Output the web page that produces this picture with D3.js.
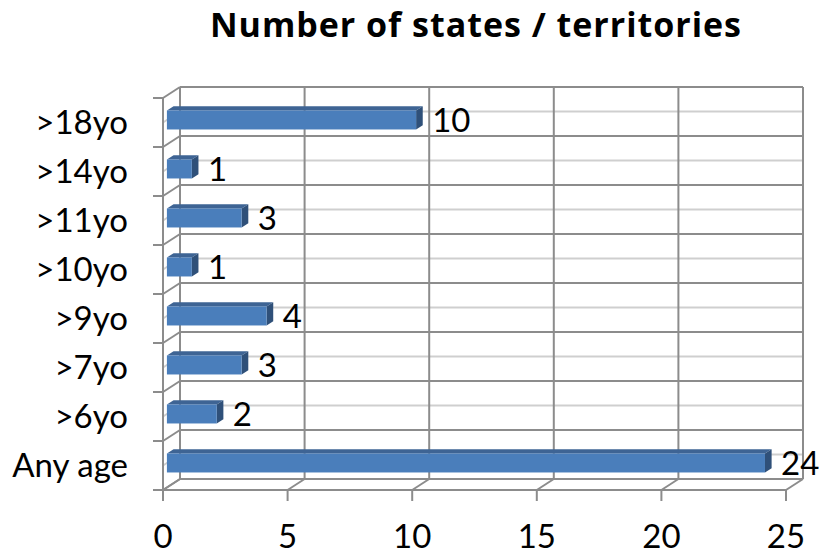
<!DOCTYPE html>
<html><head><meta charset="utf-8">
<script src="https://cdn.jsdelivr.net/npm/d3@7"></script>
<style>body{margin:0;background:#fff}svg{display:block}text{font-family:Lato,"Open Sans",sans-serif;fill:#000}</style>
</head><body>
<script>
const categories = [">18yo", ">14yo", ">11yo", ">10yo", ">9yo", ">7yo", ">6yo", "Any age"];
const values = [10, 1, 3, 1, 4, 3, 2, 24];
const xTicks = [0, 5, 10, 15, 20, 25];
const title = "Number of states / territories";

const W = 819, H = 554;
const svg = d3.select("body").append("svg").attr("width", W).attr("height", H);

const x = d3.scaleLinear().domain([0, 25]).range([163, 786]);
const y = d3.scaleBand().domain(categories).range([98, 490]).padding(0);
const DX = 17, DY = -11;        // depth offset of back wall
const d0 = 0.23, d1 = 0.62;     // bar depth span
const barH = 19;

const dark = "#8c8c8c", light = "#cfcfcf";
const g = svg.append("g");

const bx0 = x(0) + DX, bx1 = x(25) + DX, by0 = y.range()[0] + DY, by1 = y.range()[1] + DY;
categories.forEach(c => {
  const ym = y(c) + y.bandwidth() / 2 + DY;
  g.append("line").attr("x1", bx0).attr("x2", bx1).attr("y1", ym).attr("y2", ym)
    .attr("stroke", light).attr("stroke-width", 2);
  g.append("line").attr("x1", x(0)).attr("x2", bx0).attr("y1", ym - DY).attr("y2", ym)
    .attr("stroke", light).attr("stroke-width", 2);
});
const bounds = categories.map(c => y(c)).concat([y.range()[1]]);
bounds.forEach(b => {
  g.append("line").attr("x1", bx0).attr("x2", bx1).attr("y1", b + DY).attr("y2", b + DY)
    .attr("stroke", dark).attr("stroke-width", 2);
  g.append("line").attr("x1", x(0)).attr("x2", bx0).attr("y1", b).attr("y2", b + DY)
    .attr("stroke", dark).attr("stroke-width", 2);
  g.append("line").attr("x1", x(0) - 10).attr("x2", x(0)).attr("y1", b).attr("y2", b)
    .attr("stroke", dark).attr("stroke-width", 2);
});
xTicks.forEach(t => {
  g.append("line").attr("x1", x(t) + DX).attr("x2", x(t) + DX).attr("y1", by0).attr("y2", by1)
    .attr("stroke", dark).attr("stroke-width", 2);
  g.append("line").attr("x1", x(t)).attr("x2", x(t) + DX).attr("y1", y.range()[1]).attr("y2", by1)
    .attr("stroke", dark).attr("stroke-width", 2);
  g.append("line").attr("x1", x(t)).attr("x2", x(t)).attr("y1", y.range()[1]).attr("y2", y.range()[1] + 11)
    .attr("stroke", dark).attr("stroke-width", 2);
});
g.append("line").attr("x1", x(0)).attr("x2", x(0)).attr("y1", y.range()[0]).attr("y2", y.range()[1])
  .attr("stroke", dark).attr("stroke-width", 2);
g.append("line").attr("x1", x(0)).attr("x2", x(25)).attr("y1", y.range()[1]).attr("y2", y.range()[1])
  .attr("stroke", dark).attr("stroke-width", 2);

const ddx = DX * (d1 - d0), ddy = DY * (d1 - d0);
categories.forEach((c, i) => {
  const v = values[i];
  const yc = y(c) + y.bandwidth() / 2 + DY * d0;
  const xa = x(0) + DX * d0, xb = x(v) + DX * d0;
  const top = yc - barH / 2, bot = yc + barH / 2;
  const bar = g.append("g");
  bar.append("polygon").attr("points", [[xa, top], [xb, top], [xb + ddx, top + ddy], [xa + ddx, top + ddy]].join(" "))
    .attr("fill", "#3e6494");
  bar.append("polygon").attr("points", [[xb, top], [xb + ddx, top + ddy], [xb + ddx, bot + ddy], [xb, bot]].join(" "))
    .attr("fill", "#2f5079");
  bar.append("rect").attr("x", xa).attr("y", top).attr("width", xb - xa).attr("height", barH)
    .attr("fill", "#4a7ebb");
  g.append("text").attr("x", x(v) + 20).attr("y", yc).attr("dy", "0.36em")
    .attr("font-size", 33).text(v);
});

categories.forEach(c => {
  g.append("text").attr("x", 128).attr("y", y(c) + y.bandwidth() / 2).attr("dy", "0.36em")
    .attr("text-anchor", "end").attr("font-size", 33).text(c);
});
xTicks.forEach(t => {
  g.append("text").attr("x", x(t)).attr("y", 548).attr("text-anchor", "middle")
    .attr("font-size", 33).text(t);
});
const tt = svg.append("text").attr("x", 476).attr("y", 37).attr("text-anchor", "middle")
  .style("font-family", "'Open Sans', 'Noto Sans', sans-serif")
  .attr("font-size", 34).attr("font-weight", "bold").text(title);
const tw = tt.node().getComputedTextLength();
tt.attr("letter-spacing", Math.max(0, (532 - tw) / title.length));
</script>
</body></html>
